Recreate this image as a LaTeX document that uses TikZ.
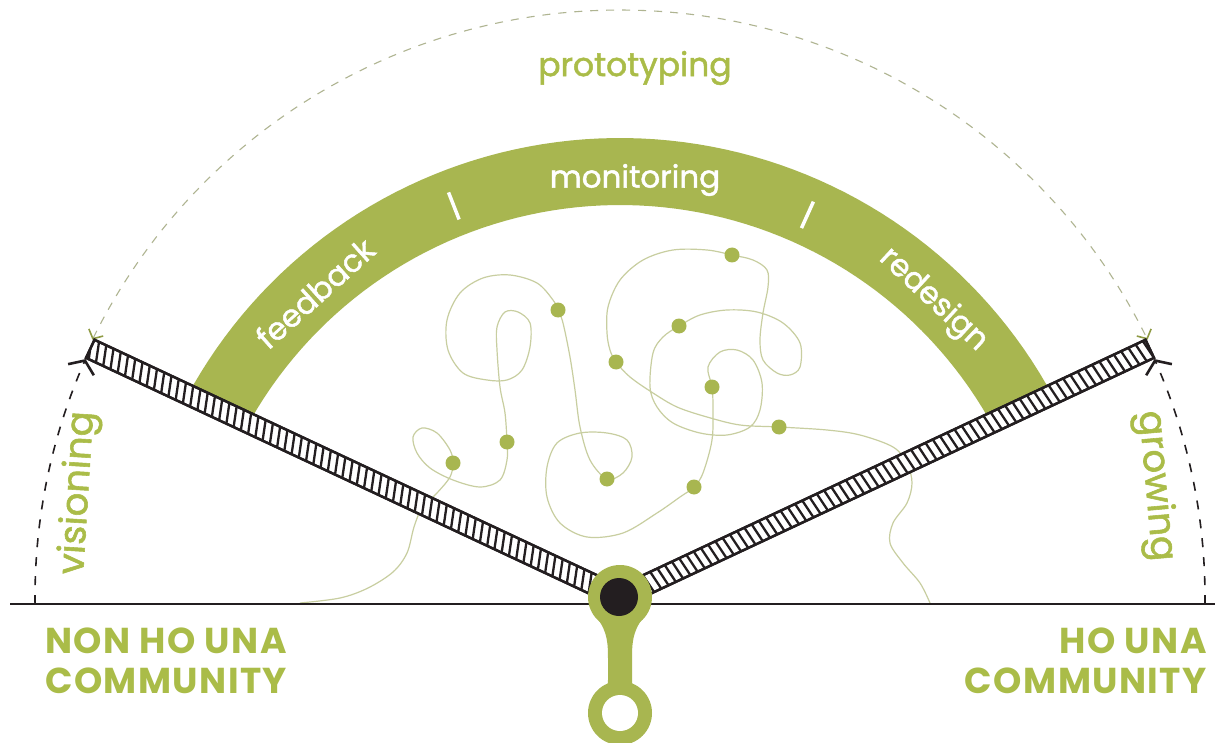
\documentclass[tikz,border=0pt]{standalone}
\usepackage{fontspec}
\setmainfont{Poppins}
\usetikzlibrary{arrows.meta}
\definecolor{gr}{RGB}{168,182,80}
\definecolor{grtext}{RGB}{170,188,72}
\definecolor{curvec}{RGB}{200,206,160}
\definecolor{dashc}{RGB}{175,180,145}
\definecolor{ink}{RGB}{35,30,32}
\tikzset{
  lbl/.style={text=grtext, inner sep=0pt, font=\fontsize{33}{33}\selectfont\addfontfeatures{FakeBold=1.5}},
  sidelbl/.style={text=grtext, inner sep=0pt, font=\fontsize{37}{37}\selectfont\addfontfeatures{FakeBold=1.5}},
  bandtxt/.style={text=white, inner sep=0pt, font=\fontsize{31}{31}\selectfont\addfontfeatures{FakeBold=1.5}},
  capslbl/.style={text=grtext, inner sep=0pt, font=\fontsize{36}{40}\selectfont\bfseries\addfontfeatures{LetterSpace=4}},
  greendash/.style={draw=dashc, line width=1.1pt, dash pattern=on 8pt off 8pt},
  blackdash/.style={draw=ink, line width=1.6pt, dash pattern=on 9pt off 10pt},
  armbox/.style={draw=ink, line width=2.4pt, fill=white},
  hatch/.style={draw=ink, line width=2.3pt},
  dotc/.style={fill=gr},
  gtip/.style={{Straight Barb[length=7pt,width=16pt,line width=1.6pt,color=gr!85!black]}-{Straight Barb[length=7pt,width=16pt,line width=1.6pt,color=gr!85!black]}},
  btip/.style={-{Straight Barb[length=10pt,width=28pt,line width=2.6pt]}},
}
\begin{document}
\begin{tikzpicture}[x=1pt,y=-1pt]
\useasboundingbox (0,0) rectangle (1215,743);
\fill[white] (0,0) rectangle (1215,743);

% green band
\begin{scope}
  \clip (620,597) -- (-195,214) -- (-195,-100) -- (1433,-100) -- (1433,214) -- cycle;
  \fill[gr] plot[domain=155:25, samples=80] ({620+492*cos(\x)},{630-492*sin(\x)})
     -- plot[domain=25:155, samples=80] ({620+425*cos(\x)},{630-425*sin(\x)}) -- cycle;
\end{scope}
% separators on band
\draw[white, line width=3.5pt] ({620+441*cos(111.4)},{630-441*sin(111.4)}) -- ({620+470*cos(111.4)},{630-470*sin(111.4)});
\draw[white, line width=3.5pt] ({620+441*cos(65.7)},{630-441*sin(65.7)}) -- ({620+470*cos(65.7)},{630-470*sin(65.7)});

% prototyping dashed arc
\draw[greendash, gtip]
  plot[domain=154:26, samples=120] ({620+587*cos(\x)},{597-587*sin(\x)});
% visioning / growing dashed arcs
\draw[blackdash, btip]
  plot[domain=180.7:156, samples=40] ({620+585*cos(\x)},{597-585*sin(\x)});
\draw[blackdash, btip]
  plot[domain=-0.7:24, samples=40] ({620+585*cos(\x)},{597-585*sin(\x)});

% wandering path
\draw[curvec, line width=1.2pt] plot[smooth, tension=0.55] coordinates {
(300,603) (340,598) (368,588) (393,572) (407,553) (414,527) (422,508) (437,493) (450,477) (453,463)
(450,450) (437,433) (422,428) (413,437) (417,453) (430,468) (453,480) (480,487) (500,480) (507,460)
(507,442) (505,413) (500,387) (497,350) (497,327) (505,312) (518,312) (530,323) (530,347) (522,370)
(507,380) (487,380) (463,373) (448,350) (447,320) (460,293) (483,278) (510,275) (537,283) (553,300)
(558,310) (563,323) (570,357) (575,390) (580,427) (590,460) (607,479) (623,473) (632,457) (627,440)
(607,433) (580,433) (557,443) (547,467) (547,497) (560,523) (587,537) (623,533) (657,513) (680,497)
(694,487) (703,473) (712,440) (713,407) (712,387) (708,367) (720,352) (737,350) (753,360) (762,383)
(760,410) (750,427) (727,435) (700,433) (673,423) (657,407) (650,387) (653,353) (663,337) (679,326)
(700,315) (727,310) (757,312) (783,323) (800,343) (800,367) (790,375) (777,373) (763,360) (760,340)
(763,313) (768,287) (767,270) (753,260) (732,255) (707,250) (673,250) (643,260) (620,280) (608,307)
(607,333) (610,350) (616,362) (630,377) (653,393) (677,407) (707,417) (740,425) (779,427) (827,430)
(860,435) (893,447) (907,463) (912,483) (907,503) (893,523) (890,543) (903,563) (920,583) (930,603)};
\foreach \p in {(453,463),(507,442),(558,310),(607,479),(694,487),(712,387),(679,326),(732,255),(616,362),(779,427)}
  \fill[dotc] \p circle (7.5);

% arms
\begin{scope}[shift={(620,597)}, rotate=25.1]
  \draw[armbox] (0,-10) rectangle (585,10);
  \begin{scope}
    \clip (0,-10) rectangle (585,10);
    \foreach \t in {30,38,...,590} \draw[hatch] (\t,-10) -- (\t+3,10);
  \end{scope}
  \draw[draw=ink, line width=2.4pt] (0,-10) rectangle (585,10);
\end{scope}
\begin{scope}[shift={(620,597)}, rotate=154.9]
  \draw[armbox] (0,-10) rectangle (585,10);
  \begin{scope}
    \clip (0,-10) rectangle (585,10);
    \foreach \t in {30,38,...,590} \draw[hatch] (\t,-10) -- (\t+6,10);
  \end{scope}
  \draw[draw=ink, line width=2.4pt] (0,-10) rectangle (585,10);
\end{scope}

% ground
\draw[ink, line width=2pt] (10,604) -- (1215,604);

% pivot
\fill[gr] (620,597) circle (32);
\fill[gr] (620,713) circle (32);
\fill[gr] (597,618) .. controls (608,632) and (608,645) .. (608,660) -- (608,680)
  .. controls (608,690) and (603,695) .. (596,700) -- (644,700)
  .. controls (637,695) and (632,690) .. (632,680) -- (632,660)
  .. controls (632,645) and (632,632) .. (643,618) -- cycle;
\fill[ink] (619,597) circle (19);
\fill[white] (620,713) circle (18);

% texts
\node[lbl] (proto) at (635,68) {prototyping};
\node[bandtxt] (moni) at (635,180) {monitoring};
\node[bandtxt, rotate=42] (feed) at (315,293) {feedback};
\node[bandtxt, rotate=-43] (redes) at (933,300) {redesign};
\node[sidelbl, rotate=86.5] (vision) at (79,493) {visioning};
\node[sidelbl, rotate=-85] (grow) at (1155,486) {growing};
\node[capslbl, anchor=north west, align=left] (nonho) at (45,628) {NON HO UNA\\COMMUNITY};
\node[capslbl, anchor=north east, align=right] (ho) at (1207,628) {HO UNA\\COMMUNITY};
\end{tikzpicture}
\end{document}
